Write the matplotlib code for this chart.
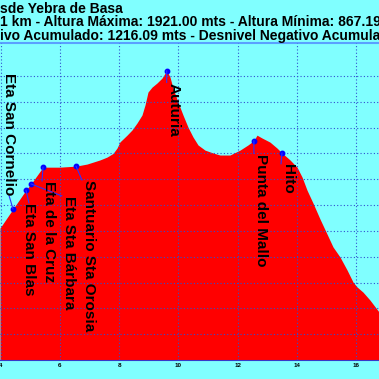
import matplotlib
matplotlib.use("Agg")
import matplotlib.pyplot as plt

# profile (km, m)
dist_km = [3.973, 4.412, 4.851, 5.020, 5.426, 6.000, 6.541, 6.912, 7.351, 7.588,
           7.791, 7.926, 8.027, 8.128, 8.264, 8.432, 8.601, 8.770, 8.872, 8.973,
           9.108, 9.277, 9.446, 9.605, 9.716, 9.818, 9.986, 10.155, 10.324, 10.493,
           10.662, 10.899, 11.169, 11.405, 11.743, 12.081, 12.351, 12.550, 12.655,
           12.824, 13.095, 13.331, 13.500, 13.770, 14.007, 14.176, 14.345, 14.547,
           14.784, 15.020, 15.223, 15.459, 15.696, 15.899, 16.034, 16.236, 16.473, 16.777]
elev_m = [1311, 1385, 1458, 1482, 1547, 1547, 1551, 1559, 1575, 1586,
          1600, 1621, 1645, 1656, 1671, 1691, 1718, 1749, 1788, 1838,
          1857, 1873, 1892, 1921, 1896, 1853, 1799, 1749, 1702, 1664,
          1633, 1613, 1602, 1594, 1594, 1613, 1633, 1650, 1671,
          1660, 1644, 1621, 1602, 1575, 1547, 1509, 1458, 1408,
          1346, 1288, 1238, 1199, 1149, 1102, 1083, 1063, 1032, 986]

waypoints = ["Eta San Cornelio", "Eta San Blas", "Eta Sta Bárbara", "Eta de la Cruz",
             "Santuario Sta Orosia", "Auturia", "Punta del Mallo", "Hito"]
wp_km = [4.412, 4.851, 5.020, 5.426, 6.541, 9.605, 12.550, 13.500]
wp_m = [1385, 1458, 1482, 1547, 1551, 1921, 1650, 1602]

x_ticks = [4, 6, 8, 10, 12, 14, 16]
y_grid = [900, 1000, 1100, 1200, 1300, 1400, 1500, 1600, 1700, 1800, 1900]

title_lines = [
    "sde Yebra de Basa",
    "1 km - Altura Máxima: 1921.00 mts - Altura Mínima: 867.19 mts",
    "ivo Acumulado: 1216.09 mts - Desnivel Negativo Acumulado: 1216.09 mts",
]

# label placement (pixel offsets from marker) and leader anchor on the label box
label_layout = [(-11, 136, (0.5, 0)), (-4, -13, (0.5, 1)), (31, -12, (0, 1)),
                (-1, -14, (0, 1)), (6, -14, (0, 1)), (0, -12, (0, 1)),
                (0, -13, (0, 1)), (-1, -11, (0, 1))]

bg = "#80ffff"
plt.rcParams["font.family"] = ["Liberation Sans", "DejaVu Sans"]

fig = plt.figure(figsize=(3.79, 3.79), dpi=100, facecolor=bg)
ax = fig.add_axes([0, 19 / 379, 1, (360 - 43) / 379])
ax.set_facecolor(bg)

ax.fill_between(dist_km, elev_m, 800, color="#ff0000", linewidth=0, zorder=1)
ax.set_xlim(3.973, 16.777)
ax.set_ylim(800, 2028)

ax.set_xticks(x_ticks)
ax.set_xticklabels([str(t) for t in x_ticks], fontsize=4.5, fontweight="bold")
ax.set_yticks(y_grid)
ax.set_yticklabels([])
ax.tick_params(length=0, pad=2)
ax.set_axisbelow(False)
ax.grid(True, color="#3050d0", linestyle=(0, (1, 2)), linewidth=0.8)

for side in ["left", "right"]:
    ax.spines[side].set_visible(False)
ax.spines["bottom"].set_color("#3838c8")
ax.spines["top"].set_color("#5aa0ff")
ax.spines["top"].set_linewidth(1.5)

ax.plot(wp_km, wp_m, "o", color="#0000ff", markersize=3.2, zorder=4, linestyle="none")

for name, xk, ym, (dx, dy, rel) in zip(waypoints, wp_km, wp_m, label_layout):
    ax.annotate(name, xy=(xk, ym), xytext=(dx, dy), textcoords="offset pixels",
                rotation=270, ha="left", va="top", fontsize=11, fontweight="bold",
                color="black", zorder=5,
                arrowprops=dict(arrowstyle="-", color="#3030ff", lw=0.8,
                                relpos=rel, shrinkA=0, shrinkB=0,
                                patchA=None))

for i, line in enumerate(title_lines):
    fig.text(0.0, 1 - (13 + 13.5 * i) / 379, line, ha="left", va="baseline",
             fontsize=10, fontweight="bold", color="black")

fig.savefig("out.png", dpi=100, facecolor=bg)
